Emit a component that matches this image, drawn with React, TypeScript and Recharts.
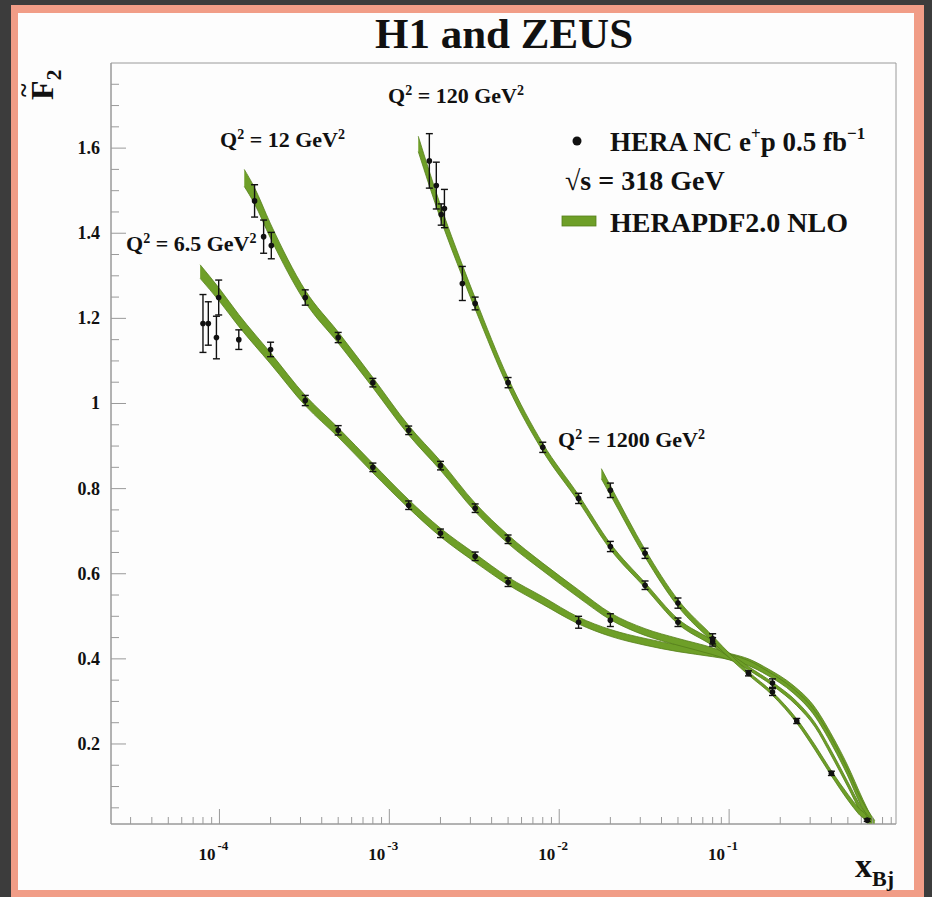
import React from "react";
import {
  ComposedChart,
  XAxis,
  YAxis,
  Area,
  Scatter,
  ErrorBar,
  ReferenceArea,
} from "recharts";

const FONT = "'Liberation Serif', 'DejaVu Serif', serif";
const GREEN = "#6e9f28";
const GREEN_EDGE = "#557f1a";
const AXIS = "#9a9a9a";

const X_MIN = 2.3e-5;
const X_MAX = 0.96;
const Y_MIN = 0.012;
const Y_MAX = 1.8;

// axis ticks
const xMajorTicks = [1e-4, 1e-3, 1e-2, 1e-1];
const xMajorExps = ["-4", "-3", "-2", "-1"];
const xDecades = [1e-5, 1e-4, 1e-3, 1e-2, 1e-1];
const xMinorSteps = [2, 3, 4, 5, 6, 7, 8, 9];

const yMajorTicks = [0.2, 0.4, 0.6, 0.8, 1.0, 1.2, 1.4, 1.6];
const yMajorLabels = ["0.2", "0.4", "0.6", "0.8", "1", "1.2", "1.4", "1.6"];
const yMinorTicks = [
  0.05, 0.1, 0.15, 0.25, 0.3, 0.35, 0.45, 0.5, 0.55, 0.65, 0.7, 0.75, 0.85,
  0.9, 0.95, 1.05, 1.1, 1.15, 1.25, 1.3, 1.35, 1.45, 1.5, 1.55, 1.65, 1.7,
  1.75,
];

// HERA NC e+p data, per Q2 bin
const q65X = [8.0e-5, 8.6e-5, 9.6e-5, 9.9e-5, 1.3e-4, 2.0e-4, 3.2e-4, 5.0e-4, 8.0e-4, 1.3e-3, 2.0e-3, 3.2e-3, 5.0e-3, 1.3e-2];
const q65F2 = [1.188, 1.188, 1.155, 1.249, 1.15, 1.127, 1.007, 0.937, 0.85, 0.761, 0.695, 0.641, 0.58, 0.486];
const q65Err = [0.068, 0.051, 0.05, 0.041, 0.023, 0.017, 0.012, 0.011, 0.01, 0.01, 0.01, 0.01, 0.01, 0.014];

const q12X = [1.61e-4, 1.82e-4, 2.02e-4, 3.2e-4, 5.0e-4, 8.0e-4, 1.3e-3, 2.0e-3, 3.2e-3, 5.0e-3, 2.0e-2];
const q12F2 = [1.476, 1.392, 1.371, 1.249, 1.155, 1.049, 0.937, 0.854, 0.754, 0.681, 0.491];
const q12Err = [0.038, 0.039, 0.031, 0.018, 0.012, 0.01, 0.01, 0.01, 0.01, 0.01, 0.015];

const q120X = [1.72e-3, 1.89e-3, 2.02e-3, 2.11e-3, 2.69e-3, 3.2e-3, 5.0e-3, 8.0e-3, 1.3e-2, 2.0e-2, 3.2e-2, 5.0e-2, 8.0e-2, 0.18];
const q120F2 = [1.57, 1.512, 1.444, 1.458, 1.282, 1.235, 1.049, 0.897, 0.777, 0.664, 0.573, 0.486, 0.44, 0.343];
const q120Err = [0.064, 0.055, 0.025, 0.045, 0.04, 0.015, 0.012, 0.012, 0.012, 0.012, 0.01, 0.01, 0.01, 0.01];

const q1200X = [2.0e-2, 3.2e-2, 5.0e-2, 8.0e-2, 0.13, 0.18, 0.25, 0.4, 0.65];
const q1200F2 = [0.796, 0.648, 0.531, 0.447, 0.366, 0.322, 0.254, 0.131, 0.021];
const q1200Err = [0.017, 0.012, 0.012, 0.012, 0.006, 0.008, 0.006, 0.005, 0.003];

// HERAPDF2.0 NLO bands: central value and half-width
const c65X = [7.7e-5, 1e-4, 1.3e-4, 2e-4, 3.2e-4, 5e-4, 8e-4, 1.3e-3, 2e-3, 3.2e-3, 5e-3, 8e-3, 1.3e-2, 2e-2, 3.2e-2, 5e-2, 8e-2, 0.105, 0.13, 0.167, 0.238, 0.312, 0.409, 0.494, 0.614, 0.7];
const c65F2 = [1.31, 1.255, 1.195, 1.106, 1.007, 0.932, 0.848, 0.764, 0.697, 0.637, 0.583, 0.537, 0.49, 0.461, 0.44, 0.425, 0.413, 0.404, 0.394, 0.373, 0.333, 0.286, 0.209, 0.146, 0.061, 0.014];
const c65U = [0.016, 0.015, 0.014, 0.013, 0.012, 0.011, 0.011, 0.01, 0.01, 0.01, 0.009, 0.009, 0.008, 0.008, 0.008, 0.008, 0.008, 0.007, 0.006, 0.005, 0.005, 0.006, 0.007, 0.007, 0.008, 0.008];

const c12X = [1.4e-4, 1.6e-4, 2e-4, 3.2e-4, 5e-4, 8e-4, 1.3e-3, 2e-3, 3.2e-3, 5e-3, 8e-3, 1.3e-2, 2e-2, 3.2e-2, 5e-2, 8e-2, 0.105, 0.13, 0.167, 0.238, 0.312, 0.409, 0.494, 0.6, 0.72];
const c12F2 = [1.53, 1.49, 1.405, 1.252, 1.155, 1.049, 0.937, 0.854, 0.756, 0.681, 0.616, 0.553, 0.5, 0.463, 0.44, 0.418, 0.402, 0.39, 0.367, 0.325, 0.277, 0.2, 0.136, 0.062, 0.012];
const c12U = [0.02, 0.019, 0.017, 0.014, 0.013, 0.012, 0.011, 0.011, 0.01, 0.01, 0.009, 0.009, 0.008, 0.008, 0.008, 0.008, 0.007, 0.006, 0.005, 0.005, 0.006, 0.007, 0.007, 0.008, 0.008];

const c120X = [1.48e-3, 2e-3, 2.7e-3, 3.2e-3, 5e-3, 8e-3, 1.3e-2, 2e-2, 3.2e-2, 5e-2, 8e-2, 0.105, 0.13, 0.18, 0.25, 0.32, 0.4, 0.5, 0.6, 0.7];
const c120F2 = [1.61, 1.45, 1.31, 1.235, 1.049, 0.897, 0.777, 0.664, 0.573, 0.488, 0.437, 0.403, 0.378, 0.341, 0.295, 0.245, 0.178, 0.105, 0.045, 0.012];
const c120U = [0.018, 0.016, 0.014, 0.013, 0.011, 0.009, 0.008, 0.007, 0.006, 0.006, 0.006, 0.005, 0.004, 0.004, 0.005, 0.005, 0.006, 0.006, 0.007, 0.007];

const c1200X = [1.77e-2, 2e-2, 3.2e-2, 5e-2, 8e-2, 0.105, 0.13, 0.18, 0.25, 0.32, 0.4, 0.5, 0.58, 0.65, 0.665];
const c1200F2 = [0.835, 0.796, 0.648, 0.531, 0.447, 0.4, 0.366, 0.318, 0.254, 0.192, 0.131, 0.075, 0.042, 0.021, 0.012];
const c1200U = [0.012, 0.011, 0.009, 0.008, 0.007, 0.005, 0.004, 0.004, 0.005, 0.006, 0.006, 0.007, 0.007, 0.007, 0.007];

const qLabels = ["6.5", "12", "120", "1200"];

const rows = (xs: number[], ys: number[], errs: number[]) =>
  xs.map((x, i) => ({ x, f2: ys[i], err: errs[i] }));

const pointSets = [
  rows(q65X, q65F2, q65Err),
  rows(q12X, q12F2, q12Err),
  rows(q120X, q120F2, q120Err),
  rows(q1200X, q1200F2, q1200Err),
];
const bandSets = [
  rows(c65X, c65F2, c65U),
  rows(c12X, c12F2, c12U),
  rows(c120X, c120F2, c120U),
  rows(c1200X, c1200F2, c1200U),
];

const xTicks = [
  ...xMajorTicks,
  ...xDecades.flatMap((d) => xMinorSteps.map((s) => s * d)),
]
  .filter((v) => v >= X_MIN && v <= X_MAX)
  .sort((a, b) => a - b);
const yTicks = [...yMajorTicks, ...yMinorTicks].sort((a, b) => a - b);

const XTick = (props: any) => {
  const { x, y, payload } = props;
  const v = payload.value;
  const mi = xMajorTicks.findIndex(
    (t) => Math.abs(Math.log10(t) - Math.log10(v)) < 1e-6
  );
  const len = mi >= 0 ? 15 : 7;
  return (
    <g>
      <line x1={x} x2={x} y1={y} y2={y - len} stroke={AXIS} strokeWidth={1} />
      {mi >= 0 && (
        <g fontFamily={FONT} fontWeight="bold" fill="#111">
          <text x={x - 4} y={y + 36} textAnchor="end" fontSize={17}>
            10
          </text>
          <text x={x - 2} y={y + 26} textAnchor="start" fontSize={13}>
            {xMajorExps[mi]}
          </text>
        </g>
      )}
    </g>
  );
};

const YTick = (props: any) => {
  const { x, y, payload } = props;
  const mi = yMajorTicks.findIndex((t) => Math.abs(t - payload.value) < 1e-9);
  const len = mi >= 0 ? 15 : 8;
  return (
    <g>
      <line x1={x} x2={x + len} y1={y} y2={y} stroke={AXIS} strokeWidth={1} />
      {mi >= 0 && (
        <text
          x={x - 11}
          y={y + 6}
          textAnchor="end"
          fontSize={18}
          fontFamily={FONT}
          fontWeight="bold"
          fill="#111"
        >
          {yMajorLabels[mi]}
        </text>
      )}
    </g>
  );
};

const QLabel = ({ x, y, value }: { x: number; y: number; value: string }) => (
  <text x={x} y={y} fontSize={22} fontFamily={FONT} fontWeight="bold" fill="#111">
    Q
    <tspan dy={-8} fontSize={14}>
      2
    </tspan>
    <tspan dy={8}>{` = ${value} GeV`}</tspan>
    <tspan dy={-8} fontSize={14}>
      2
    </tspan>
  </text>
);

const bandRange = (d: any) => [d.f2 - d.err, d.f2 + d.err];

export default function App() {
  return (
    <div
      style={{
        position: "absolute",
        left: 0,
        top: 0,
        width: 932,
        height: 897,
        background: "#3c3c3c",
        overflow: "hidden",
      }}
    >
      <div
        style={{
          position: "absolute",
          left: 11,
          top: 5,
          width: 896,
          height: 877,
          borderStyle: "solid",
          borderColor: "#f19d87",
          borderWidth: "8px 10px 7px 7px",
          background: "#fdfdfd",
        }}
      />
      <div style={{ position: "absolute", left: 0, top: 0 }}>
        <ComposedChart
          width={932}
          height={897}
          margin={{ top: 63, right: 36, bottom: 33, left: 61 }}
        >
          <XAxis
            dataKey="x"
            type="number"
            scale="log"
            domain={[X_MIN, X_MAX]}
            allowDataOverflow
            ticks={xTicks}
            interval={0}
            tick={<XTick />}
            tickSize={0}
            tickMargin={0}
            tickLine={false}
            height={40}
            axisLine={{ stroke: AXIS }}
          />
          <YAxis
            type="number"
            domain={[Y_MIN, Y_MAX]}
            allowDataOverflow
            ticks={yTicks}
            interval={0}
            tick={<YTick />}
            tickSize={0}
            tickMargin={0}
            tickLine={false}
            width={50}
            axisLine={{ stroke: AXIS }}
          />
          <ReferenceArea
            x1={X_MIN}
            x2={X_MAX}
            y1={Y_MIN}
            y2={Y_MAX}
            fill="none"
            stroke={AXIS}
            strokeWidth={1}
          />
          {bandSets.map((d, i) => (
            <Area
              key={`band${i}`}
              data={d}
              dataKey={bandRange}
              type="monotone"
              fill={GREEN}
              fillOpacity={1}
              stroke={GREEN_EDGE}
              strokeWidth={0.8}
              dot={false}
              activeDot={false}
              legendType="none"
              isAnimationActive={false}
            />
          ))}
          {pointSets.map((d, i) => (
            <Scatter
              key={`pts${i}`}
              data={d}
              dataKey="f2"
              isAnimationActive={false}
              shape={(p: any) => <circle cx={p.cx} cy={p.cy} r={2.8} fill="#111" />}
            >
              <ErrorBar
                dataKey="err"
                direction="y"
                width={3.5}
                stroke="#111"
                strokeWidth={1.4}
                isAnimationActive={false}
              />
            </Scatter>
          ))}
        </ComposedChart>
      </div>
      <svg
        width={932}
        height={897}
        style={{ position: "absolute", left: 0, top: 0, pointerEvents: "none" }}
      >
        <text
          x={504}
          y={48}
          textAnchor="middle"
          fontSize={43}
          fontFamily={FONT}
          fontWeight="bold"
          fill="#111"
        >
          H1 and ZEUS
        </text>
        <g transform="translate(53, 100) rotate(-90)" fontFamily={FONT} fontWeight="bold" fill="#111">
          <text x={0} y={0} fontSize={32}>
            F
            <tspan dy={8} fontSize={22}>
              2
            </tspan>
          </text>
          <text x={3} y={-21} fontSize={26}>
            ~
          </text>
        </g>
        <g fontFamily={FONT} fontWeight="bold" fill="#111">
          <text x={855} y={877} fontSize={34}>
            x
            <tspan dy={9} fontSize={22}>
              Bj
            </tspan>
          </text>
        </g>
        <QLabel x={126} y={251} value={qLabels[0]} />
        <QLabel x={220} y={147} value={qLabels[1]} />
        <QLabel x={388} y={103} value={qLabels[2]} />
        <QLabel x={558} y={447} value={qLabels[3]} />
        <g fontFamily={FONT} fontWeight="bold" fill="#111">
          <circle cx={577} cy={141} r={4.5} fill="#111" />
          <text x={610} y={151} fontSize={27}>
            HERA NC e
            <tspan dy={-12} fontSize={17}>
              +
            </tspan>
            <tspan dy={12}>p 0.5 fb</tspan>
            <tspan dy={-12} fontSize={17}>
              −1
            </tspan>
          </text>
          <text x={565} y={190} fontSize={28}>
            √s = 318 GeV
          </text>
          <rect x={562} y={216} width={34} height={10} fill={GREEN} stroke={GREEN_EDGE} strokeWidth={0.8} />
          <text x={610} y={232} fontSize={28}>
            HERAPDF2.0 NLO
          </text>
        </g>
      </svg>
    </div>
  );
}
